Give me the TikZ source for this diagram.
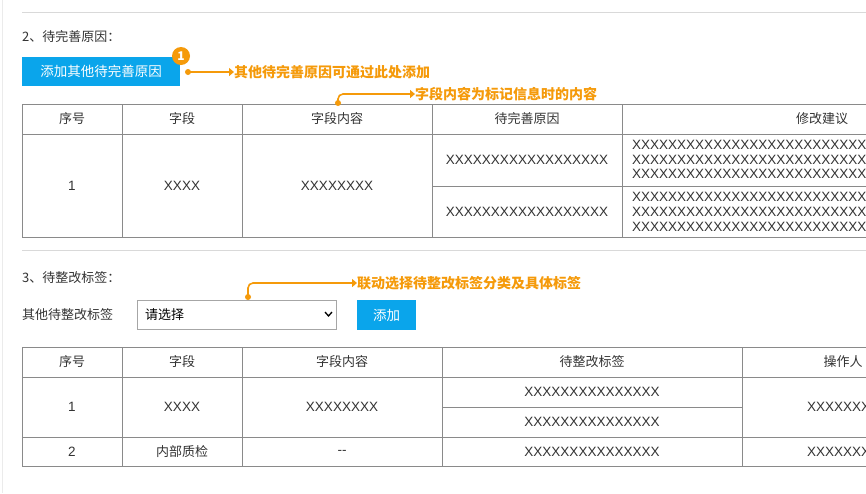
\documentclass[tikz,border=0pt]{standalone}
\usepackage{fontspec}
\setmainfont{Noto Sans CJK SC}
\newfontfamily\latinfont{Liberation Sans}
\usetikzlibrary{arrows.meta}
\definecolor{btnblue}{HTML}{0AA5EB}
\definecolor{noteorange}{HTML}{F59A0A}
\definecolor{gridgray}{HTML}{8A8A8A}
\tikzset{
  cell/.style={font=\fontsize{13}{15}\selectfont, text=black!80, inner sep=0pt},
  xcell/.style={cell, font=\fontsize{13.5}{15}\selectfont\latinfont},
  note/.style={font=\fontsize{14}{15}\selectfont\bfseries, text=noteorange, anchor=west, inner sep=0pt},
  noteline/.style={noteorange, line width=1.6pt, -{Triangle[length=5pt,width=8pt]}},
  grid/.style={gridgray, line width=.8pt},
  btn/.style={fill=btnblue, draw=none, text=white, font=\fontsize{13.5}{15}\selectfont, inner sep=0pt}
}
\begin{document}
\begin{tikzpicture}[x=1pt,y=-1pt]
  \useasboundingbox (0,0) rectangle (866,493);
  \clip (0,0) rectangle (866,493);
  \fill[white] (0,0) rectangle (866,493);
  \draw[black!8] (2,0) -- (2,493);

  %% section 2
  \draw[black!15] (22,12) -- (866,12);
  \node[cell, anchor=west] (sec2) at (22,37) {2、待完善原因：};
  \node[btn, minimum width=158pt, minimum height=29pt, anchor=north west] (addreason) at (22,57) {添加其他待完善原因};
  \node[circle, fill=noteorange, text=white, inner sep=0pt, minimum size=18pt, font=\fontsize{12}{12}\selectfont\bfseries] (badge) at (181,56) {1};
  \coordinate (n1s) at (188,72);
  \node[note] (n1) at (234,72) {其他待完善原因可通过此处添加};
  \fill[noteorange] (n1s) circle (3pt);
  \draw[noteline] (n1s) -- (n1.west);

  %% table 1
  \draw[grid] (22,104) rectangle (880,237);
  \draw[grid] (22,134) -- (880,134);
  \draw[grid] (432,186) -- (880,186);
  \foreach \x in {122,242,432,622} \draw[grid] (\x,104) -- (\x,237);
  \node[cell] (h1a) at (72,119) {序号};
  \node[cell] (h1b) at (182,119) {字段};
  \node[cell] (h1c) at (337,119) {字段内容};
  \node[cell] (h1d) at (527,119) {待完善原因};
  \node[cell] (h1e) at (822,119) {修改建议};
  \coordinate (n2s) at (338,103);
  \node[note] (n2) at (415,94) {字段内容为标记信息时的内容};
  \fill[noteorange] (n2s) circle (3pt);
  \draw[noteline, rounded corners=5pt] (n2s) |- (n2.west);
  \node[xcell] (r1a) at (72,186) {1};
  \node[xcell] (r1b) at (182,186) {XXXX};
  \node[xcell] (r1c) at (337,186) {XXXXXXXX};
  \node[xcell] (r1d) at (527,160) {XXXXXXXXXXXXXXXXXX};
  \node[xcell] (r1e) at (527,212) {XXXXXXXXXXXXXXXXXX};
  \foreach \y in {145,160,174,197,212,227}
    \node[xcell, anchor=west] at (632,\y) {XXXXXXXXXXXXXXXXXXXXXXXXXX};

  %% section 3
  \draw[black!15] (22,250) -- (866,250);
  \node[cell, anchor=west] (sec3) at (22,278) {3、待整改标签：};
  \node[cell, anchor=west] (lbl) at (22,315) {其他待整改标签};
  \node[draw=black!35, line width=.8pt, minimum width=199pt, minimum height=29pt, anchor=north west, inner sep=0pt] (select) at (137,300) {};
  \node[cell, anchor=west, text=black] at (145,315) {请选择};
  \draw[line width=1.3pt] (325,312) -- (328.5,316) -- (332,312);
  \node[btn, minimum width=59pt, minimum height=30pt, anchor=north west] (addtag) at (357,300) {添加};
  \coordinate (n3s) at (248,297);
  \node[note] (n3) at (357,283) {联动选择待整改标签分类及具体标签};
  \fill[noteorange] (n3s) circle (3pt);
  \draw[noteline, rounded corners=5pt] (n3s) |- (n3.west);

  %% table 2
  \draw[grid] (22,347) rectangle (880,466);
  \draw[grid] (22,377) -- (880,377);
  \draw[grid] (442,407) -- (742,407);
  \draw[grid] (22,437) -- (880,437);
  \foreach \x in {122,242,442,742} \draw[grid] (\x,347) -- (\x,466);
  \node[cell] (h2a) at (72,362) {序号};
  \node[cell] (h2b) at (182,362) {字段};
  \node[cell] (h2c) at (342,362) {字段内容};
  \node[cell] (h2d) at (592,362) {待整改标签};
  \node[cell] (h2e) at (843,362) {操作人};
  \node[xcell] (r2a) at (72,407) {1};
  \node[xcell] (r2b) at (182,407) {XXXX};
  \node[xcell] (r2c) at (342,407) {XXXXXXXX};
  \node[xcell] (r2d) at (592,392) {XXXXXXXXXXXXXXX};
  \node[xcell] (r2e) at (592,422) {XXXXXXXXXXXXXXX};
  \node[xcell, anchor=west] (r2f) at (807,407) {XXXXXXXX};
  \node[xcell] (r3a) at (72,452) {2};
  \node[cell] (r3b) at (182,452) {内部质检};
  \node[xcell] (r3c) at (342,452) {-{}-};
  \node[xcell] (r3d) at (592,452) {XXXXXXXXXXXXXXX};
  \node[xcell, anchor=west] (r3e) at (807,452) {XXXXXXXX};
\end{tikzpicture}
\end{document}
